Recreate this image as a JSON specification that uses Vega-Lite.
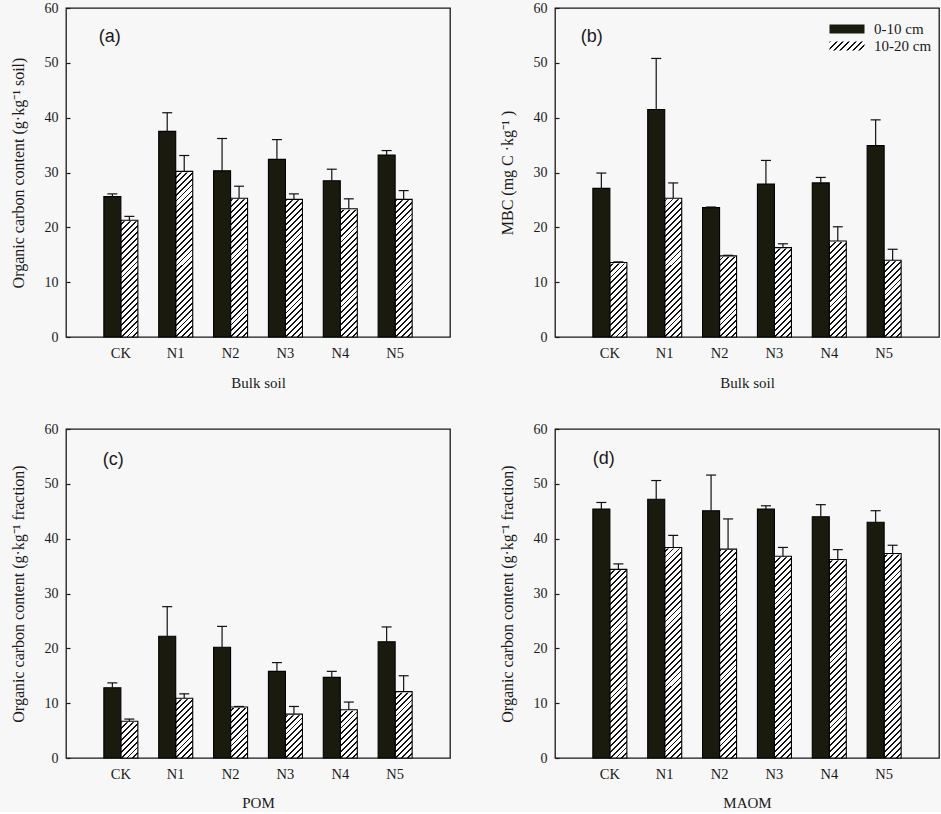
{
"$schema": "https://vega.github.io/schema/vega-lite/v6.json",
"background": "#f7f7f7",
"padding": {"left": 9, "top": 0, "right": 2, "bottom": 0},
"datasets": {"bars": [
{"p":"a","t":"CK","d":"0-10 cm","v":25.6,"hi":26.1},{"p":"a","t":"CK","d":"10-20 cm","v":21.3,"hi":22.0},
{"p":"a","t":"N1","d":"0-10 cm","v":37.5,"hi":40.9},{"p":"a","t":"N1","d":"10-20 cm","v":30.2,"hi":33.1},
{"p":"a","t":"N2","d":"0-10 cm","v":30.3,"hi":36.2},{"p":"a","t":"N2","d":"10-20 cm","v":25.3,"hi":27.5},
{"p":"a","t":"N3","d":"0-10 cm","v":32.4,"hi":36.0},{"p":"a","t":"N3","d":"10-20 cm","v":25.1,"hi":26.1},
{"p":"a","t":"N4","d":"0-10 cm","v":28.5,"hi":30.6},{"p":"a","t":"N4","d":"10-20 cm","v":23.4,"hi":25.2},
{"p":"a","t":"N5","d":"0-10 cm","v":33.2,"hi":34.0},{"p":"a","t":"N5","d":"10-20 cm","v":25.1,"hi":26.7},
{"p":"b","t":"CK","d":"0-10 cm","v":27.1,"hi":29.9},{"p":"b","t":"CK","d":"10-20 cm","v":13.6,"hi":13.7},
{"p":"b","t":"N1","d":"0-10 cm","v":41.5,"hi":50.8},{"p":"b","t":"N1","d":"10-20 cm","v":25.3,"hi":28.1},
{"p":"b","t":"N2","d":"0-10 cm","v":23.6,"hi":23.7},{"p":"b","t":"N2","d":"10-20 cm","v":14.8,"hi":14.9},
{"p":"b","t":"N3","d":"0-10 cm","v":27.9,"hi":32.2},{"p":"b","t":"N3","d":"10-20 cm","v":16.3,"hi":17.0},
{"p":"b","t":"N4","d":"0-10 cm","v":28.1,"hi":29.1},{"p":"b","t":"N4","d":"10-20 cm","v":17.5,"hi":20.1},
{"p":"b","t":"N5","d":"0-10 cm","v":34.9,"hi":39.6},{"p":"b","t":"N5","d":"10-20 cm","v":14.0,"hi":16.0},
{"p":"c","t":"CK","d":"0-10 cm","v":12.8,"hi":13.7},{"p":"c","t":"CK","d":"10-20 cm","v":6.7,"hi":7.1},
{"p":"c","t":"N1","d":"0-10 cm","v":22.2,"hi":27.6},{"p":"c","t":"N1","d":"10-20 cm","v":10.9,"hi":11.7},
{"p":"c","t":"N2","d":"0-10 cm","v":20.2,"hi":24.0},{"p":"c","t":"N2","d":"10-20 cm","v":9.3,"hi":9.4},
{"p":"c","t":"N3","d":"0-10 cm","v":15.8,"hi":17.4},{"p":"c","t":"N3","d":"10-20 cm","v":8.0,"hi":9.4},
{"p":"c","t":"N4","d":"0-10 cm","v":14.7,"hi":15.8},{"p":"c","t":"N4","d":"10-20 cm","v":8.8,"hi":10.2},
{"p":"c","t":"N5","d":"0-10 cm","v":21.2,"hi":23.9},{"p":"c","t":"N5","d":"10-20 cm","v":12.1,"hi":15.0},
{"p":"d","t":"CK","d":"0-10 cm","v":45.4,"hi":46.6},{"p":"d","t":"CK","d":"10-20 cm","v":34.4,"hi":35.4},
{"p":"d","t":"N1","d":"0-10 cm","v":47.2,"hi":50.6},{"p":"d","t":"N1","d":"10-20 cm","v":38.4,"hi":40.6},
{"p":"d","t":"N2","d":"0-10 cm","v":45.1,"hi":51.6},{"p":"d","t":"N2","d":"10-20 cm","v":38.1,"hi":43.6},
{"p":"d","t":"N3","d":"0-10 cm","v":45.4,"hi":46.0},{"p":"d","t":"N3","d":"10-20 cm","v":36.8,"hi":38.4},
{"p":"d","t":"N4","d":"0-10 cm","v":44.0,"hi":46.2},{"p":"d","t":"N4","d":"10-20 cm","v":36.2,"hi":38.0},
{"p":"d","t":"N5","d":"0-10 cm","v":43.0,"hi":45.1},{"p":"d","t":"N5","d":"10-20 cm","v":37.3,"hi":38.8}
]},
"columns": 2,
"spacing": {"row": 92, "column": 105},
"bounds": "flush",
"resolve": {"scale": {"opacity": "independent", "strokeDash": "independent"}, "legend": {"opacity": "independent", "strokeDash": "independent"}},
"concat": [
{
"width": 384, "height": 329,
"layer": [
{"data": {"name": "bars"}, "transform": [{"filter": "datum.p === 'a' && datum.d === '10-20 cm'"}],
 "mark": {"type": "bar", "stroke": null, "fill": {"gradient": "linear", "x1": 0, "y1": 0, "x2": 0.08303, "y2": 1.07108, "stops": [
{"offset":0,"color":"#111"},{"offset":0.008,"color":"#111"},{"offset":0.008,"color":"#fff"},{"offset":0.025,"color":"#fff"},
{"offset":0.025,"color":"#111"},{"offset":0.033,"color":"#111"},{"offset":0.033,"color":"#fff"},{"offset":0.05,"color":"#fff"},
{"offset":0.05,"color":"#111"},{"offset":0.058,"color":"#111"},{"offset":0.058,"color":"#fff"},{"offset":0.075,"color":"#fff"},
{"offset":0.075,"color":"#111"},{"offset":0.083,"color":"#111"},{"offset":0.083,"color":"#fff"},{"offset":0.1,"color":"#fff"},
{"offset":0.1,"color":"#111"},{"offset":0.108,"color":"#111"},{"offset":0.108,"color":"#fff"},{"offset":0.125,"color":"#fff"},
{"offset":0.125,"color":"#111"},{"offset":0.133,"color":"#111"},{"offset":0.133,"color":"#fff"},{"offset":0.15,"color":"#fff"},
{"offset":0.15,"color":"#111"},{"offset":0.158,"color":"#111"},{"offset":0.158,"color":"#fff"},{"offset":0.175,"color":"#fff"},
{"offset":0.175,"color":"#111"},{"offset":0.183,"color":"#111"},{"offset":0.183,"color":"#fff"},{"offset":0.2,"color":"#fff"},
{"offset":0.2,"color":"#111"},{"offset":0.208,"color":"#111"},{"offset":0.208,"color":"#fff"},{"offset":0.225,"color":"#fff"},
{"offset":0.225,"color":"#111"},{"offset":0.233,"color":"#111"},{"offset":0.233,"color":"#fff"},{"offset":0.25,"color":"#fff"},
{"offset":0.25,"color":"#111"},{"offset":0.258,"color":"#111"},{"offset":0.258,"color":"#fff"},{"offset":0.275,"color":"#fff"},
{"offset":0.275,"color":"#111"},{"offset":0.283,"color":"#111"},{"offset":0.283,"color":"#fff"},{"offset":0.3,"color":"#fff"},
{"offset":0.3,"color":"#111"},{"offset":0.308,"color":"#111"},{"offset":0.308,"color":"#fff"},{"offset":0.325,"color":"#fff"},
{"offset":0.325,"color":"#111"},{"offset":0.333,"color":"#111"},{"offset":0.333,"color":"#fff"},{"offset":0.35,"color":"#fff"},
{"offset":0.35,"color":"#111"},{"offset":0.358,"color":"#111"},{"offset":0.358,"color":"#fff"},{"offset":0.375,"color":"#fff"},
{"offset":0.375,"color":"#111"},{"offset":0.383,"color":"#111"},{"offset":0.383,"color":"#fff"},{"offset":0.4,"color":"#fff"},
{"offset":0.4,"color":"#111"},{"offset":0.408,"color":"#111"},{"offset":0.408,"color":"#fff"},{"offset":0.425,"color":"#fff"},
{"offset":0.425,"color":"#111"},{"offset":0.433,"color":"#111"},{"offset":0.433,"color":"#fff"},{"offset":0.45,"color":"#fff"},
{"offset":0.45,"color":"#111"},{"offset":0.458,"color":"#111"},{"offset":0.458,"color":"#fff"},{"offset":0.475,"color":"#fff"},
{"offset":0.475,"color":"#111"},{"offset":0.483,"color":"#111"},{"offset":0.483,"color":"#fff"},{"offset":0.5,"color":"#fff"},
{"offset":0.5,"color":"#111"},{"offset":0.508,"color":"#111"},{"offset":0.508,"color":"#fff"},{"offset":0.525,"color":"#fff"},
{"offset":0.525,"color":"#111"},{"offset":0.533,"color":"#111"},{"offset":0.533,"color":"#fff"},{"offset":0.55,"color":"#fff"},
{"offset":0.55,"color":"#111"},{"offset":0.558,"color":"#111"},{"offset":0.558,"color":"#fff"},{"offset":0.575,"color":"#fff"},
{"offset":0.575,"color":"#111"},{"offset":0.583,"color":"#111"},{"offset":0.583,"color":"#fff"},{"offset":0.6,"color":"#fff"},
{"offset":0.6,"color":"#111"},{"offset":0.608,"color":"#111"},{"offset":0.608,"color":"#fff"},{"offset":0.625,"color":"#fff"},
{"offset":0.625,"color":"#111"},{"offset":0.633,"color":"#111"},{"offset":0.633,"color":"#fff"},{"offset":0.65,"color":"#fff"},
{"offset":0.65,"color":"#111"},{"offset":0.658,"color":"#111"},{"offset":0.658,"color":"#fff"},{"offset":0.675,"color":"#fff"},
{"offset":0.675,"color":"#111"},{"offset":0.683,"color":"#111"},{"offset":0.683,"color":"#fff"},{"offset":0.7,"color":"#fff"},
{"offset":0.7,"color":"#111"},{"offset":0.708,"color":"#111"},{"offset":0.708,"color":"#fff"},{"offset":0.725,"color":"#fff"},
{"offset":0.725,"color":"#111"},{"offset":0.733,"color":"#111"},{"offset":0.733,"color":"#fff"},{"offset":0.75,"color":"#fff"},
{"offset":0.75,"color":"#111"},{"offset":0.758,"color":"#111"},{"offset":0.758,"color":"#fff"},{"offset":0.775,"color":"#fff"},
{"offset":0.775,"color":"#111"},{"offset":0.783,"color":"#111"},{"offset":0.783,"color":"#fff"},{"offset":0.8,"color":"#fff"},
{"offset":0.8,"color":"#111"},{"offset":0.808,"color":"#111"},{"offset":0.808,"color":"#fff"},{"offset":0.825,"color":"#fff"},
{"offset":0.825,"color":"#111"},{"offset":0.833,"color":"#111"},{"offset":0.833,"color":"#fff"},{"offset":0.85,"color":"#fff"},
{"offset":0.85,"color":"#111"},{"offset":0.858,"color":"#111"},{"offset":0.858,"color":"#fff"},{"offset":0.875,"color":"#fff"},
{"offset":0.875,"color":"#111"},{"offset":0.883,"color":"#111"},{"offset":0.883,"color":"#fff"},{"offset":0.9,"color":"#fff"},
{"offset":0.9,"color":"#111"},{"offset":0.908,"color":"#111"},{"offset":0.908,"color":"#fff"},{"offset":0.925,"color":"#fff"},
{"offset":0.925,"color":"#111"},{"offset":0.933,"color":"#111"},{"offset":0.933,"color":"#fff"},{"offset":0.95,"color":"#fff"},
{"offset":0.95,"color":"#111"},{"offset":0.958,"color":"#111"},{"offset":0.958,"color":"#fff"},{"offset":0.975,"color":"#fff"},
{"offset":0.975,"color":"#111"},{"offset":0.983,"color":"#111"},{"offset":0.983,"color":"#fff"},{"offset":1,"color":"#fff"}]}},
 "encoding": {
  "x": {"field": "t", "type": "nominal", "sort": null, "title": "Bulk soil", "scale": {"domain": ["CK","N1","N2","N3","N4","N5"], "paddingInner": 0.38, "paddingOuter": 0.69}, "axis": {"titlePadding": 16}},
  "xOffset": {"field": "d", "type": "nominal", "scale": {"domain": ["0-10 cm","10-20 cm"], "paddingInner": 0, "paddingOuter": 0}},
  "y": {"datum": 0, "type": "quantitative", "scale": {"domain": [0, 60]}, "axis": {"values": [0,10,20,30,40,50,60]}, "title": "Organic carbon content (g·kg⁻¹ soil)"},
  "y2": {"datum": 40}}},
{"data": {"name": "bars"}, "transform": [{"filter": "datum.p === 'a' && datum.d === '10-20 cm'"}],
 "mark": {"type": "bar", "fill": "#f7f7f7", "stroke": "#f7f7f7", "strokeWidth": 2},
 "encoding": {
  "x": {"field": "t", "type": "nominal", "sort": null, "title": "Bulk soil"},
  "xOffset": {"field": "d", "type": "nominal"},
  "y": {"field": "v", "type": "quantitative", "title": "Organic carbon content (g·kg⁻¹ soil)"},
  "y2": {"datum": 40}}},
{"data": {"name": "bars"}, "transform": [{"filter": "datum.p === 'a' && datum.d === '10-20 cm'"}],
 "mark": {"type": "bar", "fill": "transparent", "stroke": "#000", "strokeWidth": 1.1},
 "encoding": {
  "x": {"field": "t", "type": "nominal", "sort": null, "title": "Bulk soil"},
  "xOffset": {"field": "d", "type": "nominal"},
  "y": {"field": "v", "type": "quantitative", "stack": null, "title": "Organic carbon content (g·kg⁻¹ soil)"}}},
{"data": {"name": "bars"}, "transform": [{"filter": "datum.p === 'a' && datum.d === '0-10 cm'"}],
 "mark": {"type": "bar", "fill": "#1a1a0e", "stroke": "#000", "strokeWidth": 1.1},
 "encoding": {
  "x": {"field": "t", "type": "nominal", "sort": null, "title": "Bulk soil"},
  "xOffset": {"field": "d", "type": "nominal"},
  "y": {"field": "v", "type": "quantitative", "stack": null, "title": "Organic carbon content (g·kg⁻¹ soil)"}}},
{"data": {"name": "bars"}, "transform": [{"filter": "datum.p === 'a'"}],
 "mark": {"type": "rule", "stroke": "#111", "strokeWidth": 1.2},
 "encoding": {
  "x": {"field": "t", "type": "nominal", "sort": null, "title": "Bulk soil"},
  "xOffset": {"field": "d", "type": "nominal"},
  "y": {"field": "v", "type": "quantitative", "title": "Organic carbon content (g·kg⁻¹ soil)"},
  "y2": {"field": "hi"}}},
{"data": {"name": "bars"}, "transform": [{"filter": "datum.p === 'a'"}],
 "mark": {"type": "tick", "size": 10, "thickness": 1.2, "color": "#111", "opacity": 1},
 "encoding": {
  "x": {"field": "t", "type": "nominal", "sort": null, "title": "Bulk soil"},
  "xOffset": {"field": "d", "type": "nominal"},
  "y": {"field": "hi", "type": "quantitative", "title": "Organic carbon content (g·kg⁻¹ soil)"}}},
{"data": {"values": [{"lab": "(a)"}]},
 "mark": {"type": "text", "font": "Liberation Sans", "fontSize": 18, "align": "right", "baseline": "middle", "color": "#1a1a1a", "dx": 0},
 "encoding": {"x": {"datum": "CK", "title": "Bulk soil"}, "y": {"datum": 54.7, "title": "Organic carbon content (g·kg⁻¹ soil)"}, "text": {"field": "lab"}}}
]},
{
"width": 384, "height": 329,
"layer": [
{"data": {"name": "bars"}, "transform": [{"filter": "datum.p === 'b' && datum.d === '10-20 cm'"}],
 "mark": {"type": "bar", "stroke": null, "fill": {"gradient": "linear", "x1": 0, "y1": 0, "x2": 0.08303, "y2": 1.07108, "stops": [
{"offset":0,"color":"#111"},{"offset":0.008,"color":"#111"},{"offset":0.008,"color":"#fff"},{"offset":0.025,"color":"#fff"},
{"offset":0.025,"color":"#111"},{"offset":0.033,"color":"#111"},{"offset":0.033,"color":"#fff"},{"offset":0.05,"color":"#fff"},
{"offset":0.05,"color":"#111"},{"offset":0.058,"color":"#111"},{"offset":0.058,"color":"#fff"},{"offset":0.075,"color":"#fff"},
{"offset":0.075,"color":"#111"},{"offset":0.083,"color":"#111"},{"offset":0.083,"color":"#fff"},{"offset":0.1,"color":"#fff"},
{"offset":0.1,"color":"#111"},{"offset":0.108,"color":"#111"},{"offset":0.108,"color":"#fff"},{"offset":0.125,"color":"#fff"},
{"offset":0.125,"color":"#111"},{"offset":0.133,"color":"#111"},{"offset":0.133,"color":"#fff"},{"offset":0.15,"color":"#fff"},
{"offset":0.15,"color":"#111"},{"offset":0.158,"color":"#111"},{"offset":0.158,"color":"#fff"},{"offset":0.175,"color":"#fff"},
{"offset":0.175,"color":"#111"},{"offset":0.183,"color":"#111"},{"offset":0.183,"color":"#fff"},{"offset":0.2,"color":"#fff"},
{"offset":0.2,"color":"#111"},{"offset":0.208,"color":"#111"},{"offset":0.208,"color":"#fff"},{"offset":0.225,"color":"#fff"},
{"offset":0.225,"color":"#111"},{"offset":0.233,"color":"#111"},{"offset":0.233,"color":"#fff"},{"offset":0.25,"color":"#fff"},
{"offset":0.25,"color":"#111"},{"offset":0.258,"color":"#111"},{"offset":0.258,"color":"#fff"},{"offset":0.275,"color":"#fff"},
{"offset":0.275,"color":"#111"},{"offset":0.283,"color":"#111"},{"offset":0.283,"color":"#fff"},{"offset":0.3,"color":"#fff"},
{"offset":0.3,"color":"#111"},{"offset":0.308,"color":"#111"},{"offset":0.308,"color":"#fff"},{"offset":0.325,"color":"#fff"},
{"offset":0.325,"color":"#111"},{"offset":0.333,"color":"#111"},{"offset":0.333,"color":"#fff"},{"offset":0.35,"color":"#fff"},
{"offset":0.35,"color":"#111"},{"offset":0.358,"color":"#111"},{"offset":0.358,"color":"#fff"},{"offset":0.375,"color":"#fff"},
{"offset":0.375,"color":"#111"},{"offset":0.383,"color":"#111"},{"offset":0.383,"color":"#fff"},{"offset":0.4,"color":"#fff"},
{"offset":0.4,"color":"#111"},{"offset":0.408,"color":"#111"},{"offset":0.408,"color":"#fff"},{"offset":0.425,"color":"#fff"},
{"offset":0.425,"color":"#111"},{"offset":0.433,"color":"#111"},{"offset":0.433,"color":"#fff"},{"offset":0.45,"color":"#fff"},
{"offset":0.45,"color":"#111"},{"offset":0.458,"color":"#111"},{"offset":0.458,"color":"#fff"},{"offset":0.475,"color":"#fff"},
{"offset":0.475,"color":"#111"},{"offset":0.483,"color":"#111"},{"offset":0.483,"color":"#fff"},{"offset":0.5,"color":"#fff"},
{"offset":0.5,"color":"#111"},{"offset":0.508,"color":"#111"},{"offset":0.508,"color":"#fff"},{"offset":0.525,"color":"#fff"},
{"offset":0.525,"color":"#111"},{"offset":0.533,"color":"#111"},{"offset":0.533,"color":"#fff"},{"offset":0.55,"color":"#fff"},
{"offset":0.55,"color":"#111"},{"offset":0.558,"color":"#111"},{"offset":0.558,"color":"#fff"},{"offset":0.575,"color":"#fff"},
{"offset":0.575,"color":"#111"},{"offset":0.583,"color":"#111"},{"offset":0.583,"color":"#fff"},{"offset":0.6,"color":"#fff"},
{"offset":0.6,"color":"#111"},{"offset":0.608,"color":"#111"},{"offset":0.608,"color":"#fff"},{"offset":0.625,"color":"#fff"},
{"offset":0.625,"color":"#111"},{"offset":0.633,"color":"#111"},{"offset":0.633,"color":"#fff"},{"offset":0.65,"color":"#fff"},
{"offset":0.65,"color":"#111"},{"offset":0.658,"color":"#111"},{"offset":0.658,"color":"#fff"},{"offset":0.675,"color":"#fff"},
{"offset":0.675,"color":"#111"},{"offset":0.683,"color":"#111"},{"offset":0.683,"color":"#fff"},{"offset":0.7,"color":"#fff"},
{"offset":0.7,"color":"#111"},{"offset":0.708,"color":"#111"},{"offset":0.708,"color":"#fff"},{"offset":0.725,"color":"#fff"},
{"offset":0.725,"color":"#111"},{"offset":0.733,"color":"#111"},{"offset":0.733,"color":"#fff"},{"offset":0.75,"color":"#fff"},
{"offset":0.75,"color":"#111"},{"offset":0.758,"color":"#111"},{"offset":0.758,"color":"#fff"},{"offset":0.775,"color":"#fff"},
{"offset":0.775,"color":"#111"},{"offset":0.783,"color":"#111"},{"offset":0.783,"color":"#fff"},{"offset":0.8,"color":"#fff"},
{"offset":0.8,"color":"#111"},{"offset":0.808,"color":"#111"},{"offset":0.808,"color":"#fff"},{"offset":0.825,"color":"#fff"},
{"offset":0.825,"color":"#111"},{"offset":0.833,"color":"#111"},{"offset":0.833,"color":"#fff"},{"offset":0.85,"color":"#fff"},
{"offset":0.85,"color":"#111"},{"offset":0.858,"color":"#111"},{"offset":0.858,"color":"#fff"},{"offset":0.875,"color":"#fff"},
{"offset":0.875,"color":"#111"},{"offset":0.883,"color":"#111"},{"offset":0.883,"color":"#fff"},{"offset":0.9,"color":"#fff"},
{"offset":0.9,"color":"#111"},{"offset":0.908,"color":"#111"},{"offset":0.908,"color":"#fff"},{"offset":0.925,"color":"#fff"},
{"offset":0.925,"color":"#111"},{"offset":0.933,"color":"#111"},{"offset":0.933,"color":"#fff"},{"offset":0.95,"color":"#fff"},
{"offset":0.95,"color":"#111"},{"offset":0.958,"color":"#111"},{"offset":0.958,"color":"#fff"},{"offset":0.975,"color":"#fff"},
{"offset":0.975,"color":"#111"},{"offset":0.983,"color":"#111"},{"offset":0.983,"color":"#fff"},{"offset":1,"color":"#fff"}]}},
 "encoding": {
  "x": {"field": "t", "type": "nominal", "sort": null, "title": "Bulk soil", "scale": {"domain": ["CK","N1","N2","N3","N4","N5"], "paddingInner": 0.38, "paddingOuter": 0.69}, "axis": {"titlePadding": 16}},
  "xOffset": {"field": "d", "type": "nominal", "scale": {"domain": ["0-10 cm","10-20 cm"], "paddingInner": 0, "paddingOuter": 0}},
  "y": {"datum": 0, "type": "quantitative", "scale": {"domain": [0, 60]}, "axis": {"values": [0,10,20,30,40,50,60]}, "title": "MBC  (mg C ·kg⁻¹ )"},
  "y2": {"datum": 40}}},
{"data": {"name": "bars"}, "transform": [{"filter": "datum.p === 'b' && datum.d === '10-20 cm'"}],
 "mark": {"type": "bar", "fill": "#f7f7f7", "stroke": "#f7f7f7", "strokeWidth": 2},
 "encoding": {
  "x": {"field": "t", "type": "nominal", "sort": null, "title": "Bulk soil"},
  "xOffset": {"field": "d", "type": "nominal"},
  "y": {"field": "v", "type": "quantitative", "title": "MBC  (mg C ·kg⁻¹ )"},
  "y2": {"datum": 40}}},
{"data": {"name": "bars"}, "transform": [{"filter": "datum.p === 'b' && datum.d === '10-20 cm'"}],
 "mark": {"type": "bar", "fillOpacity": 0, "strokeOpacity": 0, "stroke": "#000", "fill": {"gradient": "linear", "x1": 0, "y1": 0, "x2": 1.1802, "y2": 0.3069, "stops": [
{"offset":0,"color":"#111"},{"offset":0.043,"color":"#111"},{"offset":0.043,"color":"#fff"},{"offset":0.142857,"color":"#fff"},
{"offset":0.142857,"color":"#111"},{"offset":0.185857,"color":"#111"},{"offset":0.185857,"color":"#fff"},{"offset":0.285714,"color":"#fff"},
{"offset":0.285714,"color":"#111"},{"offset":0.328714,"color":"#111"},{"offset":0.328714,"color":"#fff"},{"offset":0.428571,"color":"#fff"},
{"offset":0.428571,"color":"#111"},{"offset":0.471571,"color":"#111"},{"offset":0.471571,"color":"#fff"},{"offset":0.571429,"color":"#fff"},
{"offset":0.571429,"color":"#111"},{"offset":0.614429,"color":"#111"},{"offset":0.614429,"color":"#fff"},{"offset":0.714286,"color":"#fff"},
{"offset":0.714286,"color":"#111"},{"offset":0.757286,"color":"#111"},{"offset":0.757286,"color":"#fff"},{"offset":0.857143,"color":"#fff"},
{"offset":0.857143,"color":"#111"},{"offset":0.900143,"color":"#111"},{"offset":0.900143,"color":"#fff"},{"offset":1,"color":"#fff"}]}},
 "encoding": {
  "x": {"field": "t", "type": "nominal", "sort": null, "title": "Bulk soil"},
  "xOffset": {"field": "d", "type": "nominal"},
  "y": {"field": "v", "type": "quantitative", "stack": null, "title": "MBC  (mg C ·kg⁻¹ )"},
  "strokeDash": {"field": "d", "type": "nominal", "scale": {"domain": ["10-20 cm"], "range": [[1, 0]]},
   "legend": {"title": null, "orient": "none", "legendX": 274, "legendY": 30, "padding": 0, "symbolType": "M-1,-0.26H1V0.26H-1Z", "symbolSize": 1225, "symbolStrokeColor": "#000", "symbolStrokeWidth": 1, "symbolOpacity": 1, "clipHeight": 16, "labelOffset": 9, "labelFont": "Liberation Serif", "labelFontSize": 15, "labelColor": "#1a1a1a", "labelLimit": 200}}}},
{"data": {"name": "bars"}, "transform": [{"filter": "datum.p === 'b' && datum.d === '10-20 cm'"}],
 "mark": {"type": "bar", "fill": "transparent", "stroke": "#000", "strokeWidth": 1.1},
 "encoding": {
  "x": {"field": "t", "type": "nominal", "sort": null, "title": "Bulk soil"},
  "xOffset": {"field": "d", "type": "nominal"},
  "y": {"field": "v", "type": "quantitative", "stack": null, "title": "MBC  (mg C ·kg⁻¹ )"}}},
{"data": {"name": "bars"}, "transform": [{"filter": "datum.p === 'b' && datum.d === '0-10 cm'"}],
 "mark": {"type": "bar", "fill": "#1a1a0e", "stroke": "#000", "strokeWidth": 1.1},
 "encoding": {
  "x": {"field": "t", "type": "nominal", "sort": null, "title": "Bulk soil"},
  "xOffset": {"field": "d", "type": "nominal"},
  "y": {"field": "v", "type": "quantitative", "stack": null, "title": "MBC  (mg C ·kg⁻¹ )"},
  "opacity": {"field": "d", "type": "nominal", "scale": {"domain": ["0-10 cm"], "range": [1]},
   "legend": {"title": null, "orient": "none", "legendX": 274, "legendY": 13, "padding": 0, "symbolType": "M-1,-0.26H1V0.26H-1Z", "symbolSize": 1225, "symbolStrokeColor": "#000", "symbolStrokeWidth": 1, "symbolOpacity": 1, "clipHeight": 16, "labelOffset": 9, "labelFont": "Liberation Serif", "labelFontSize": 15, "labelColor": "#1a1a1a", "labelLimit": 200}}}},
{"data": {"name": "bars"}, "transform": [{"filter": "datum.p === 'b'"}],
 "mark": {"type": "rule", "stroke": "#111", "strokeWidth": 1.2},
 "encoding": {
  "x": {"field": "t", "type": "nominal", "sort": null, "title": "Bulk soil"},
  "xOffset": {"field": "d", "type": "nominal"},
  "y": {"field": "v", "type": "quantitative", "title": "MBC  (mg C ·kg⁻¹ )"},
  "y2": {"field": "hi"}}},
{"data": {"name": "bars"}, "transform": [{"filter": "datum.p === 'b'"}],
 "mark": {"type": "tick", "size": 10, "thickness": 1.2, "color": "#111", "opacity": 1},
 "encoding": {
  "x": {"field": "t", "type": "nominal", "sort": null, "title": "Bulk soil"},
  "xOffset": {"field": "d", "type": "nominal"},
  "y": {"field": "hi", "type": "quantitative", "title": "MBC  (mg C ·kg⁻¹ )"}}},
{"data": {"values": [{"lab": "(b)"}]},
 "mark": {"type": "text", "font": "Liberation Sans", "fontSize": 18, "align": "right", "baseline": "middle", "color": "#1a1a1a", "dx": -7},
 "encoding": {"x": {"datum": "CK", "title": "Bulk soil"}, "y": {"datum": 54.7, "title": "MBC  (mg C ·kg⁻¹ )"}, "text": {"field": "lab"}}}
]},
{
"width": 384, "height": 329,
"layer": [
{"data": {"name": "bars"}, "transform": [{"filter": "datum.p === 'c' && datum.d === '10-20 cm'"}],
 "mark": {"type": "bar", "stroke": null, "fill": {"gradient": "linear", "x1": 0, "y1": 0, "x2": 0.08303, "y2": 1.07108, "stops": [
{"offset":0,"color":"#111"},{"offset":0.008,"color":"#111"},{"offset":0.008,"color":"#fff"},{"offset":0.025,"color":"#fff"},
{"offset":0.025,"color":"#111"},{"offset":0.033,"color":"#111"},{"offset":0.033,"color":"#fff"},{"offset":0.05,"color":"#fff"},
{"offset":0.05,"color":"#111"},{"offset":0.058,"color":"#111"},{"offset":0.058,"color":"#fff"},{"offset":0.075,"color":"#fff"},
{"offset":0.075,"color":"#111"},{"offset":0.083,"color":"#111"},{"offset":0.083,"color":"#fff"},{"offset":0.1,"color":"#fff"},
{"offset":0.1,"color":"#111"},{"offset":0.108,"color":"#111"},{"offset":0.108,"color":"#fff"},{"offset":0.125,"color":"#fff"},
{"offset":0.125,"color":"#111"},{"offset":0.133,"color":"#111"},{"offset":0.133,"color":"#fff"},{"offset":0.15,"color":"#fff"},
{"offset":0.15,"color":"#111"},{"offset":0.158,"color":"#111"},{"offset":0.158,"color":"#fff"},{"offset":0.175,"color":"#fff"},
{"offset":0.175,"color":"#111"},{"offset":0.183,"color":"#111"},{"offset":0.183,"color":"#fff"},{"offset":0.2,"color":"#fff"},
{"offset":0.2,"color":"#111"},{"offset":0.208,"color":"#111"},{"offset":0.208,"color":"#fff"},{"offset":0.225,"color":"#fff"},
{"offset":0.225,"color":"#111"},{"offset":0.233,"color":"#111"},{"offset":0.233,"color":"#fff"},{"offset":0.25,"color":"#fff"},
{"offset":0.25,"color":"#111"},{"offset":0.258,"color":"#111"},{"offset":0.258,"color":"#fff"},{"offset":0.275,"color":"#fff"},
{"offset":0.275,"color":"#111"},{"offset":0.283,"color":"#111"},{"offset":0.283,"color":"#fff"},{"offset":0.3,"color":"#fff"},
{"offset":0.3,"color":"#111"},{"offset":0.308,"color":"#111"},{"offset":0.308,"color":"#fff"},{"offset":0.325,"color":"#fff"},
{"offset":0.325,"color":"#111"},{"offset":0.333,"color":"#111"},{"offset":0.333,"color":"#fff"},{"offset":0.35,"color":"#fff"},
{"offset":0.35,"color":"#111"},{"offset":0.358,"color":"#111"},{"offset":0.358,"color":"#fff"},{"offset":0.375,"color":"#fff"},
{"offset":0.375,"color":"#111"},{"offset":0.383,"color":"#111"},{"offset":0.383,"color":"#fff"},{"offset":0.4,"color":"#fff"},
{"offset":0.4,"color":"#111"},{"offset":0.408,"color":"#111"},{"offset":0.408,"color":"#fff"},{"offset":0.425,"color":"#fff"},
{"offset":0.425,"color":"#111"},{"offset":0.433,"color":"#111"},{"offset":0.433,"color":"#fff"},{"offset":0.45,"color":"#fff"},
{"offset":0.45,"color":"#111"},{"offset":0.458,"color":"#111"},{"offset":0.458,"color":"#fff"},{"offset":0.475,"color":"#fff"},
{"offset":0.475,"color":"#111"},{"offset":0.483,"color":"#111"},{"offset":0.483,"color":"#fff"},{"offset":0.5,"color":"#fff"},
{"offset":0.5,"color":"#111"},{"offset":0.508,"color":"#111"},{"offset":0.508,"color":"#fff"},{"offset":0.525,"color":"#fff"},
{"offset":0.525,"color":"#111"},{"offset":0.533,"color":"#111"},{"offset":0.533,"color":"#fff"},{"offset":0.55,"color":"#fff"},
{"offset":0.55,"color":"#111"},{"offset":0.558,"color":"#111"},{"offset":0.558,"color":"#fff"},{"offset":0.575,"color":"#fff"},
{"offset":0.575,"color":"#111"},{"offset":0.583,"color":"#111"},{"offset":0.583,"color":"#fff"},{"offset":0.6,"color":"#fff"},
{"offset":0.6,"color":"#111"},{"offset":0.608,"color":"#111"},{"offset":0.608,"color":"#fff"},{"offset":0.625,"color":"#fff"},
{"offset":0.625,"color":"#111"},{"offset":0.633,"color":"#111"},{"offset":0.633,"color":"#fff"},{"offset":0.65,"color":"#fff"},
{"offset":0.65,"color":"#111"},{"offset":0.658,"color":"#111"},{"offset":0.658,"color":"#fff"},{"offset":0.675,"color":"#fff"},
{"offset":0.675,"color":"#111"},{"offset":0.683,"color":"#111"},{"offset":0.683,"color":"#fff"},{"offset":0.7,"color":"#fff"},
{"offset":0.7,"color":"#111"},{"offset":0.708,"color":"#111"},{"offset":0.708,"color":"#fff"},{"offset":0.725,"color":"#fff"},
{"offset":0.725,"color":"#111"},{"offset":0.733,"color":"#111"},{"offset":0.733,"color":"#fff"},{"offset":0.75,"color":"#fff"},
{"offset":0.75,"color":"#111"},{"offset":0.758,"color":"#111"},{"offset":0.758,"color":"#fff"},{"offset":0.775,"color":"#fff"},
{"offset":0.775,"color":"#111"},{"offset":0.783,"color":"#111"},{"offset":0.783,"color":"#fff"},{"offset":0.8,"color":"#fff"},
{"offset":0.8,"color":"#111"},{"offset":0.808,"color":"#111"},{"offset":0.808,"color":"#fff"},{"offset":0.825,"color":"#fff"},
{"offset":0.825,"color":"#111"},{"offset":0.833,"color":"#111"},{"offset":0.833,"color":"#fff"},{"offset":0.85,"color":"#fff"},
{"offset":0.85,"color":"#111"},{"offset":0.858,"color":"#111"},{"offset":0.858,"color":"#fff"},{"offset":0.875,"color":"#fff"},
{"offset":0.875,"color":"#111"},{"offset":0.883,"color":"#111"},{"offset":0.883,"color":"#fff"},{"offset":0.9,"color":"#fff"},
{"offset":0.9,"color":"#111"},{"offset":0.908,"color":"#111"},{"offset":0.908,"color":"#fff"},{"offset":0.925,"color":"#fff"},
{"offset":0.925,"color":"#111"},{"offset":0.933,"color":"#111"},{"offset":0.933,"color":"#fff"},{"offset":0.95,"color":"#fff"},
{"offset":0.95,"color":"#111"},{"offset":0.958,"color":"#111"},{"offset":0.958,"color":"#fff"},{"offset":0.975,"color":"#fff"},
{"offset":0.975,"color":"#111"},{"offset":0.983,"color":"#111"},{"offset":0.983,"color":"#fff"},{"offset":1,"color":"#fff"}]}},
 "encoding": {
  "x": {"field": "t", "type": "nominal", "sort": null, "title": "POM", "scale": {"domain": ["CK","N1","N2","N3","N4","N5"], "paddingInner": 0.38, "paddingOuter": 0.69}, "axis": {"titlePadding": 15}},
  "xOffset": {"field": "d", "type": "nominal", "scale": {"domain": ["0-10 cm","10-20 cm"], "paddingInner": 0, "paddingOuter": 0}},
  "y": {"datum": 0, "type": "quantitative", "scale": {"domain": [0, 60]}, "axis": {"values": [0,10,20,30,40,50,60]}, "title": "Organic carbon content  (g·kg⁻¹ fraction)"},
  "y2": {"datum": 40}}},
{"data": {"name": "bars"}, "transform": [{"filter": "datum.p === 'c' && datum.d === '10-20 cm'"}],
 "mark": {"type": "bar", "fill": "#f7f7f7", "stroke": "#f7f7f7", "strokeWidth": 2},
 "encoding": {
  "x": {"field": "t", "type": "nominal", "sort": null, "title": "POM"},
  "xOffset": {"field": "d", "type": "nominal"},
  "y": {"field": "v", "type": "quantitative", "title": "Organic carbon content  (g·kg⁻¹ fraction)"},
  "y2": {"datum": 40}}},
{"data": {"name": "bars"}, "transform": [{"filter": "datum.p === 'c' && datum.d === '10-20 cm'"}],
 "mark": {"type": "bar", "fill": "transparent", "stroke": "#000", "strokeWidth": 1.1},
 "encoding": {
  "x": {"field": "t", "type": "nominal", "sort": null, "title": "POM"},
  "xOffset": {"field": "d", "type": "nominal"},
  "y": {"field": "v", "type": "quantitative", "stack": null, "title": "Organic carbon content  (g·kg⁻¹ fraction)"}}},
{"data": {"name": "bars"}, "transform": [{"filter": "datum.p === 'c' && datum.d === '0-10 cm'"}],
 "mark": {"type": "bar", "fill": "#1a1a0e", "stroke": "#000", "strokeWidth": 1.1},
 "encoding": {
  "x": {"field": "t", "type": "nominal", "sort": null, "title": "POM"},
  "xOffset": {"field": "d", "type": "nominal"},
  "y": {"field": "v", "type": "quantitative", "stack": null, "title": "Organic carbon content  (g·kg⁻¹ fraction)"}}},
{"data": {"name": "bars"}, "transform": [{"filter": "datum.p === 'c'"}],
 "mark": {"type": "rule", "stroke": "#111", "strokeWidth": 1.2},
 "encoding": {
  "x": {"field": "t", "type": "nominal", "sort": null, "title": "POM"},
  "xOffset": {"field": "d", "type": "nominal"},
  "y": {"field": "v", "type": "quantitative", "title": "Organic carbon content  (g·kg⁻¹ fraction)"},
  "y2": {"field": "hi"}}},
{"data": {"name": "bars"}, "transform": [{"filter": "datum.p === 'c'"}],
 "mark": {"type": "tick", "size": 10, "thickness": 1.2, "color": "#111", "opacity": 1},
 "encoding": {
  "x": {"field": "t", "type": "nominal", "sort": null, "title": "POM"},
  "xOffset": {"field": "d", "type": "nominal"},
  "y": {"field": "hi", "type": "quantitative", "title": "Organic carbon content  (g·kg⁻¹ fraction)"}}},
{"data": {"values": [{"lab": "(c)"}]},
 "mark": {"type": "text", "font": "Liberation Sans", "fontSize": 18, "align": "right", "baseline": "middle", "color": "#1a1a1a", "dx": 3},
 "encoding": {"x": {"datum": "CK", "title": "POM"}, "y": {"datum": 54.4, "title": "Organic carbon content  (g·kg⁻¹ fraction)"}, "text": {"field": "lab"}}}
]},
{
"width": 384, "height": 329,
"layer": [
{"data": {"name": "bars"}, "transform": [{"filter": "datum.p === 'd' && datum.d === '10-20 cm'"}],
 "mark": {"type": "bar", "stroke": null, "fill": {"gradient": "linear", "x1": 0, "y1": 0, "x2": 0.08303, "y2": 1.07108, "stops": [
{"offset":0,"color":"#111"},{"offset":0.008,"color":"#111"},{"offset":0.008,"color":"#fff"},{"offset":0.025,"color":"#fff"},
{"offset":0.025,"color":"#111"},{"offset":0.033,"color":"#111"},{"offset":0.033,"color":"#fff"},{"offset":0.05,"color":"#fff"},
{"offset":0.05,"color":"#111"},{"offset":0.058,"color":"#111"},{"offset":0.058,"color":"#fff"},{"offset":0.075,"color":"#fff"},
{"offset":0.075,"color":"#111"},{"offset":0.083,"color":"#111"},{"offset":0.083,"color":"#fff"},{"offset":0.1,"color":"#fff"},
{"offset":0.1,"color":"#111"},{"offset":0.108,"color":"#111"},{"offset":0.108,"color":"#fff"},{"offset":0.125,"color":"#fff"},
{"offset":0.125,"color":"#111"},{"offset":0.133,"color":"#111"},{"offset":0.133,"color":"#fff"},{"offset":0.15,"color":"#fff"},
{"offset":0.15,"color":"#111"},{"offset":0.158,"color":"#111"},{"offset":0.158,"color":"#fff"},{"offset":0.175,"color":"#fff"},
{"offset":0.175,"color":"#111"},{"offset":0.183,"color":"#111"},{"offset":0.183,"color":"#fff"},{"offset":0.2,"color":"#fff"},
{"offset":0.2,"color":"#111"},{"offset":0.208,"color":"#111"},{"offset":0.208,"color":"#fff"},{"offset":0.225,"color":"#fff"},
{"offset":0.225,"color":"#111"},{"offset":0.233,"color":"#111"},{"offset":0.233,"color":"#fff"},{"offset":0.25,"color":"#fff"},
{"offset":0.25,"color":"#111"},{"offset":0.258,"color":"#111"},{"offset":0.258,"color":"#fff"},{"offset":0.275,"color":"#fff"},
{"offset":0.275,"color":"#111"},{"offset":0.283,"color":"#111"},{"offset":0.283,"color":"#fff"},{"offset":0.3,"color":"#fff"},
{"offset":0.3,"color":"#111"},{"offset":0.308,"color":"#111"},{"offset":0.308,"color":"#fff"},{"offset":0.325,"color":"#fff"},
{"offset":0.325,"color":"#111"},{"offset":0.333,"color":"#111"},{"offset":0.333,"color":"#fff"},{"offset":0.35,"color":"#fff"},
{"offset":0.35,"color":"#111"},{"offset":0.358,"color":"#111"},{"offset":0.358,"color":"#fff"},{"offset":0.375,"color":"#fff"},
{"offset":0.375,"color":"#111"},{"offset":0.383,"color":"#111"},{"offset":0.383,"color":"#fff"},{"offset":0.4,"color":"#fff"},
{"offset":0.4,"color":"#111"},{"offset":0.408,"color":"#111"},{"offset":0.408,"color":"#fff"},{"offset":0.425,"color":"#fff"},
{"offset":0.425,"color":"#111"},{"offset":0.433,"color":"#111"},{"offset":0.433,"color":"#fff"},{"offset":0.45,"color":"#fff"},
{"offset":0.45,"color":"#111"},{"offset":0.458,"color":"#111"},{"offset":0.458,"color":"#fff"},{"offset":0.475,"color":"#fff"},
{"offset":0.475,"color":"#111"},{"offset":0.483,"color":"#111"},{"offset":0.483,"color":"#fff"},{"offset":0.5,"color":"#fff"},
{"offset":0.5,"color":"#111"},{"offset":0.508,"color":"#111"},{"offset":0.508,"color":"#fff"},{"offset":0.525,"color":"#fff"},
{"offset":0.525,"color":"#111"},{"offset":0.533,"color":"#111"},{"offset":0.533,"color":"#fff"},{"offset":0.55,"color":"#fff"},
{"offset":0.55,"color":"#111"},{"offset":0.558,"color":"#111"},{"offset":0.558,"color":"#fff"},{"offset":0.575,"color":"#fff"},
{"offset":0.575,"color":"#111"},{"offset":0.583,"color":"#111"},{"offset":0.583,"color":"#fff"},{"offset":0.6,"color":"#fff"},
{"offset":0.6,"color":"#111"},{"offset":0.608,"color":"#111"},{"offset":0.608,"color":"#fff"},{"offset":0.625,"color":"#fff"},
{"offset":0.625,"color":"#111"},{"offset":0.633,"color":"#111"},{"offset":0.633,"color":"#fff"},{"offset":0.65,"color":"#fff"},
{"offset":0.65,"color":"#111"},{"offset":0.658,"color":"#111"},{"offset":0.658,"color":"#fff"},{"offset":0.675,"color":"#fff"},
{"offset":0.675,"color":"#111"},{"offset":0.683,"color":"#111"},{"offset":0.683,"color":"#fff"},{"offset":0.7,"color":"#fff"},
{"offset":0.7,"color":"#111"},{"offset":0.708,"color":"#111"},{"offset":0.708,"color":"#fff"},{"offset":0.725,"color":"#fff"},
{"offset":0.725,"color":"#111"},{"offset":0.733,"color":"#111"},{"offset":0.733,"color":"#fff"},{"offset":0.75,"color":"#fff"},
{"offset":0.75,"color":"#111"},{"offset":0.758,"color":"#111"},{"offset":0.758,"color":"#fff"},{"offset":0.775,"color":"#fff"},
{"offset":0.775,"color":"#111"},{"offset":0.783,"color":"#111"},{"offset":0.783,"color":"#fff"},{"offset":0.8,"color":"#fff"},
{"offset":0.8,"color":"#111"},{"offset":0.808,"color":"#111"},{"offset":0.808,"color":"#fff"},{"offset":0.825,"color":"#fff"},
{"offset":0.825,"color":"#111"},{"offset":0.833,"color":"#111"},{"offset":0.833,"color":"#fff"},{"offset":0.85,"color":"#fff"},
{"offset":0.85,"color":"#111"},{"offset":0.858,"color":"#111"},{"offset":0.858,"color":"#fff"},{"offset":0.875,"color":"#fff"},
{"offset":0.875,"color":"#111"},{"offset":0.883,"color":"#111"},{"offset":0.883,"color":"#fff"},{"offset":0.9,"color":"#fff"},
{"offset":0.9,"color":"#111"},{"offset":0.908,"color":"#111"},{"offset":0.908,"color":"#fff"},{"offset":0.925,"color":"#fff"},
{"offset":0.925,"color":"#111"},{"offset":0.933,"color":"#111"},{"offset":0.933,"color":"#fff"},{"offset":0.95,"color":"#fff"},
{"offset":0.95,"color":"#111"},{"offset":0.958,"color":"#111"},{"offset":0.958,"color":"#fff"},{"offset":0.975,"color":"#fff"},
{"offset":0.975,"color":"#111"},{"offset":0.983,"color":"#111"},{"offset":0.983,"color":"#fff"},{"offset":1,"color":"#fff"}]}},
 "encoding": {
  "x": {"field": "t", "type": "nominal", "sort": null, "title": "MAOM", "scale": {"domain": ["CK","N1","N2","N3","N4","N5"], "paddingInner": 0.38, "paddingOuter": 0.69}, "axis": {"titlePadding": 15}},
  "xOffset": {"field": "d", "type": "nominal", "scale": {"domain": ["0-10 cm","10-20 cm"], "paddingInner": 0, "paddingOuter": 0}},
  "y": {"datum": 0, "type": "quantitative", "scale": {"domain": [0, 60]}, "axis": {"values": [0,10,20,30,40,50,60]}, "title": "Organic carbon content  (g·kg⁻¹ fraction)"},
  "y2": {"datum": 40}}},
{"data": {"name": "bars"}, "transform": [{"filter": "datum.p === 'd' && datum.d === '10-20 cm'"}],
 "mark": {"type": "bar", "fill": "#f7f7f7", "stroke": "#f7f7f7", "strokeWidth": 2},
 "encoding": {
  "x": {"field": "t", "type": "nominal", "sort": null, "title": "MAOM"},
  "xOffset": {"field": "d", "type": "nominal"},
  "y": {"field": "v", "type": "quantitative", "title": "Organic carbon content  (g·kg⁻¹ fraction)"},
  "y2": {"datum": 40}}},
{"data": {"name": "bars"}, "transform": [{"filter": "datum.p === 'd' && datum.d === '10-20 cm'"}],
 "mark": {"type": "bar", "fill": "transparent", "stroke": "#000", "strokeWidth": 1.1},
 "encoding": {
  "x": {"field": "t", "type": "nominal", "sort": null, "title": "MAOM"},
  "xOffset": {"field": "d", "type": "nominal"},
  "y": {"field": "v", "type": "quantitative", "stack": null, "title": "Organic carbon content  (g·kg⁻¹ fraction)"}}},
{"data": {"name": "bars"}, "transform": [{"filter": "datum.p === 'd' && datum.d === '0-10 cm'"}],
 "mark": {"type": "bar", "fill": "#1a1a0e", "stroke": "#000", "strokeWidth": 1.1},
 "encoding": {
  "x": {"field": "t", "type": "nominal", "sort": null, "title": "MAOM"},
  "xOffset": {"field": "d", "type": "nominal"},
  "y": {"field": "v", "type": "quantitative", "stack": null, "title": "Organic carbon content  (g·kg⁻¹ fraction)"}}},
{"data": {"name": "bars"}, "transform": [{"filter": "datum.p === 'd'"}],
 "mark": {"type": "rule", "stroke": "#111", "strokeWidth": 1.2},
 "encoding": {
  "x": {"field": "t", "type": "nominal", "sort": null, "title": "MAOM"},
  "xOffset": {"field": "d", "type": "nominal"},
  "y": {"field": "v", "type": "quantitative", "title": "Organic carbon content  (g·kg⁻¹ fraction)"},
  "y2": {"field": "hi"}}},
{"data": {"name": "bars"}, "transform": [{"filter": "datum.p === 'd'"}],
 "mark": {"type": "tick", "size": 10, "thickness": 1.2, "color": "#111", "opacity": 1},
 "encoding": {
  "x": {"field": "t", "type": "nominal", "sort": null, "title": "MAOM"},
  "xOffset": {"field": "d", "type": "nominal"},
  "y": {"field": "hi", "type": "quantitative", "title": "Organic carbon content  (g·kg⁻¹ fraction)"}}},
{"data": {"values": [{"lab": "(d)"}]},
 "mark": {"type": "text", "font": "Liberation Sans", "fontSize": 18, "align": "right", "baseline": "middle", "color": "#1a1a1a", "dx": 5},
 "encoding": {"x": {"datum": "CK", "title": "MAOM"}, "y": {"datum": 54.5, "title": "Organic carbon content  (g·kg⁻¹ fraction)"}, "text": {"field": "lab"}}}
]}
],
"config": {
 "view": {"stroke": "#1a1a1a", "strokeWidth": 1.3, "fill": "#f7f7f7"},
 "font": "Liberation Serif",
 "axis": {"grid": false, "domain": false, "labelFont": "Liberation Serif", "labelFontSize": 14, "labelColor": "#1a1a1a", "titleFont": "Liberation Serif", "titleFontWeight": "normal", "titleColor": "#1a1a1a", "labelOverlap": false},
 "axisX": {"ticks": false, "labelPadding": 9, "labelAngle": 0, "labelFontSize": 14.5, "titleFontSize": 15},
 "axisY": {"tickSize": -4, "tickColor": "#1a1a1a", "tickWidth": 1.2, "labelPadding": 12, "titlePadding": 18, "labelFlush": false, "titleFontSize": 16}
}
}
